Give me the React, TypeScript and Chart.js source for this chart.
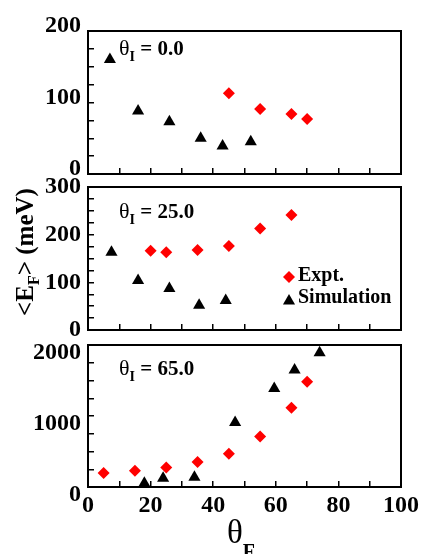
import React, { useEffect, useRef } from "react";
import { Chart, registerables } from "chart.js";

Chart.register(...registerables);

// θI = 0.0
const exptAngles0 = [45, 55, 65, 70];
const exptEnergy0 = [113, 91, 84, 77];
const simAngles0 = [7, 16, 26, 36, 43, 52];
const simEnergy0 = [160, 88, 73, 50, 39, 45];

// θI = 25.0
const exptAngles25 = [20, 25, 35, 45, 55, 65];
const exptEnergy25 = [166, 163, 168, 176, 213, 241];
const simAngles25 = [7.5, 16, 26, 35.5, 44];
const simEnergy25 = [163, 104, 87, 52, 62];

// θI = 65.0
const exptAngles65 = [5, 15, 25, 35, 45, 55, 65, 70];
const exptEnergy65 = [196, 229, 275, 351, 467, 710, 1117, 1482];
const simAngles65 = [18, 24, 34, 47, 59.5, 66, 74];
const simEnergy65 = [54, 124, 138, 907, 1389, 1649, 1891];

const panelTitles = ["0.0", "25.0", "65.0"];
const yMaxima = [200, 300, 2000];
const yMajorSteps = [100, 100, 1000];
const yMinorSteps = [25, 25, 250];
const xTickLabels = [0, 20, 40, 60, 80, 100];
const legendLabels = ["Expt.", "Simulation"];

const W = 422;
const H = 554;
const SERIF = '"Liberation Serif", "Times New Roman", serif';
const RED = "#ff0000";

// plot-area boxes and text placement for each panel
const panels = [
  { top: 31, bottom: 174, labelOffset: -5, titleBaseline: 55, xAxisHeight: 0, legend: false },
  { top: 187, bottom: 330, labelOffset: 0, titleBaseline: 218, xAxisHeight: 0, legend: true },
  { top: 345, bottom: 487, labelOffset: 8, titleBaseline: 375, xAxisHeight: 40, legend: false },
];

const seriesX = [
  [exptAngles0, simAngles0],
  [exptAngles25, simAngles25],
  [exptAngles65, simAngles65],
];
const seriesY = [
  [exptEnergy0, simEnergy0],
  [exptEnergy25, simEnergy25],
  [exptEnergy65, simEnergy65],
];

type Run = { t: string; font: string; dy?: number };

function drawRuns(ctx: CanvasRenderingContext2D, x: number, y: number, runs: Run[]) {
  let cx = x;
  for (const r of runs) {
    ctx.font = r.font;
    ctx.fillText(r.t, cx, y + (r.dy || 0));
    cx += ctx.measureText(r.t).width;
  }
  return cx - x;
}

function runsWidth(ctx: CanvasRenderingContext2D, runs: Run[]) {
  let w = 0;
  for (const r of runs) {
    ctx.font = r.font;
    w += ctx.measureText(r.t).width;
  }
  return w;
}

function diamond(ctx: CanvasRenderingContext2D, x: number, y: number, r: number) {
  ctx.beginPath();
  ctx.moveTo(x - r, y);
  ctx.lineTo(x, y - r);
  ctx.lineTo(x + r, y);
  ctx.lineTo(x, y + r);
  ctx.closePath();
  ctx.fill();
}

function triangle(ctx: CanvasRenderingContext2D, x: number, y: number, r: number) {
  ctx.beginPath();
  ctx.moveTo(x, y - r);
  ctx.lineTo(x + r * 0.866, y + r * 0.5);
  ctx.lineTo(x - r * 0.866, y + r * 0.5);
  ctx.closePath();
  ctx.fill();
}

const framePlugin = {
  id: "frame",
  beforeDatasetsDraw(chart: any) {
    const { ctx, chartArea: a } = chart;
    ctx.save();
    ctx.strokeStyle = "#000";
    ctx.lineWidth = 2;
    ctx.strokeRect(a.left, a.top, a.right - a.left, a.bottom - a.top);
    ctx.restore();
  },
};

function makeTextPlugin(i: number) {
  const p = panels[i];
  return {
    id: "texts" + i,
    afterDraw(chart: any) {
      const ctx: CanvasRenderingContext2D = chart.ctx;
      ctx.save();
      ctx.fillStyle = "#000";
      ctx.textBaseline = "alphabetic";
      ctx.textAlign = "left";
      drawRuns(ctx, 119, p.titleBaseline, [
        { t: "θ", font: `22px ${SERIF}` },
        { t: "I", font: `bold 14px ${SERIF}`, dy: 6 },
        { t: " = " + panelTitles[i], font: `bold 21px ${SERIF}` },
      ]);

      if (p.legend) {
        ctx.fillStyle = RED;
        diamond(ctx, 289, 277, 6);
        ctx.fillStyle = "#000";
        triangle(ctx, 289, 301, 7);
        ctx.font = `bold 20px ${SERIF}`;
        ctx.fillText(legendLabels[0], 298, 281);
        ctx.fillText(legendLabels[1], 298, 303);
      }

      if (i === 2) {
        // shared y-axis title
        const yRuns: Run[] = [
          { t: "<E", font: `bold 25px ${SERIF}` },
          { t: "F", font: `bold 16px ${SERIF}`, dy: 6 },
          { t: "> (meV)", font: `bold 25px ${SERIF}` },
        ];
        const w = runsWidth(ctx, yRuns);
        ctx.save();
        ctx.translate(33, 252);
        ctx.rotate(-Math.PI / 2);
        drawRuns(ctx, -w / 2, 0, yRuns);
        ctx.restore();

        // shared x-axis title
        const xw = drawRuns(ctx, 227, 543, [{ t: "θ", font: `33px ${SERIF}` }]);
        drawRuns(ctx, 227 + xw, 558, [{ t: "F", font: `bold 20px ${SERIF}` }]);
      }
      ctx.restore();
    },
  };
}

function buildChart(canvas: HTMLCanvasElement, i: number) {
  const p = panels[i];
  const [ex, sx] = seriesX[i];
  const [ey, sy] = seriesY[i];
  const tickFont = { family: SERIF, size: 24, weight: "bold" as const };
  const showXLabels = p.xAxisHeight > 0;
  return new Chart(canvas, {
    type: "scatter",
    data: {
      datasets: [
        {
          label: legendLabels[0],
          data: ex.map((x, k) => ({ x, y: ey[k] })),
          pointStyle: "rectRot",
          pointRadius: 6,
          backgroundColor: RED,
          borderColor: RED,
          borderWidth: 0,
          clip: false,
        },
        {
          label: legendLabels[1],
          data: sx.map((x, k) => ({ x, y: sy[k] })),
          pointStyle: "triangle",
          pointRadius: 7,
          backgroundColor: "#000",
          borderColor: "#000",
          borderWidth: 0,
          clip: false,
        },
      ],
    },
    options: {
      animation: false,
      responsive: false,
      events: [],
      layout: {
        padding: { left: 0, right: W - 401, top: p.top, bottom: H - p.bottom - p.xAxisHeight },
      },
      plugins: { legend: { display: false }, tooltip: { enabled: false } },
      scales: {
        x: {
          type: "linear",
          position: "bottom",
          min: 0,
          max: 100,
          afterFit: (s: any) => {
            s.height = p.xAxisHeight;
            s.paddingLeft = 0;
            s.paddingRight = 0;
          },
          border: { display: false },
          grid: { drawOnChartArea: false, drawTicks: true, tickLength: -6, color: "#000", lineWidth: 1.5 },
          ticks: {
            stepSize: 10,
            autoSkip: false,
            maxRotation: 0,
            padding: 10,
            color: "#000",
            font: tickFont,
            callback: (v: any) => (showXLabels && xTickLabels.includes(v) ? String(v) : ""),
          },
        },
        y: {
          type: "linear",
          min: 0,
          max: yMaxima[i],
          afterFit: (s: any) => {
            s.width = 88;
            s.paddingTop = 0;
            s.paddingBottom = 0;
          },
          border: { display: false },
          grid: { drawOnChartArea: false, drawTicks: true, tickLength: -6, color: "#000", lineWidth: 1.5 },
          ticks: {
            stepSize: yMinorSteps[i],
            autoSkip: false,
            padding: 13,
            labelOffset: p.labelOffset,
            color: "#000",
            font: tickFont,
            callback: (v: any) => (v % yMajorSteps[i] === 0 ? String(v) : ""),
          },
        },
      },
    },
    plugins: [framePlugin, makeTextPlugin(i)],
  });
}

function Panel({ index }: { index: number }) {
  const ref = useRef<HTMLCanvasElement>(null);
  useEffect(() => {
    if (!ref.current) return;
    const chart = buildChart(ref.current, index);
    return () => chart.destroy();
  }, [index]);
  return (
    <canvas
      ref={ref}
      width={W}
      height={H}
      style={{ position: "absolute", left: 0, top: 0, width: W, height: H, pointerEvents: "none" }}
    />
  );
}

export default function App() {
  return (
    <div style={{ position: "absolute", left: 0, top: 0, width: W, height: H, background: "#fff", overflow: "hidden" }}>
      {panels.map((_, i) => (
        <Panel key={i} index={i} />
      ))}
    </div>
  );
}
